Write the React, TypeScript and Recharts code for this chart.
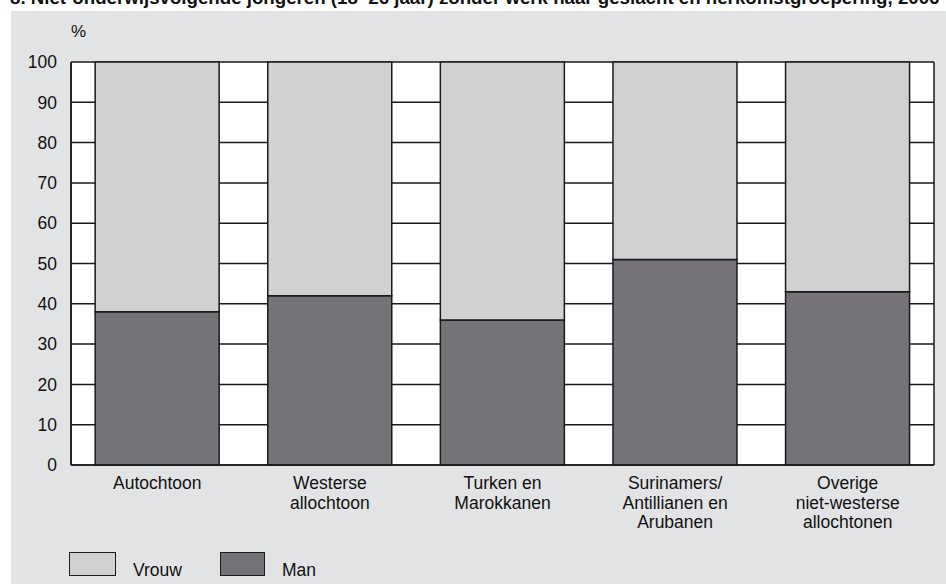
import React from 'react';
import { BarChart, Bar, XAxis, YAxis, CartesianGrid, Legend } from 'recharts';

const TITLE = '8. Niet-onderwijsvolgende jongeren (18–26 jaar) zonder werk naar geslacht en herkomstgroepering, 2006';
const categories = ['Autochtoon', 'Westerse allochtoon', 'Turken en Marokkanen', 'Surinamers/ Antillianen en Arubanen', 'Overige niet-westerse allochtonen'];
const categoryLines: string[][] = [
  ['Autochtoon'],
  ['Westerse', 'allochtoon'],
  ['Turken en', 'Marokkanen'],
  ['Surinamers/', 'Antillianen en', 'Arubanen'],
  ['Overige', 'niet-westerse', 'allochtonen'],
];
const manValues = [38, 42, 36, 51, 43];
const vrouwValues = [62, 58, 64, 49, 57];
const yTicks = [0, 10, 20, 30, 40, 50, 60, 70, 80, 90, 100];
const seriesNames = { vrouw: 'Vrouw', man: 'Man' };

const data = categories.map((c, i) => ({ cat: c, idx: i, man: manValues[i], vrouw: vrouwValues[i] }));

const FONT = 'Liberation Sans, Arial, Helvetica, sans-serif';
const BG = '#e2e3e5';
const VROUW = '#d0d1d3';
const MAN = '#757278';
const LINE = '#1a1a1a';

const XTick = (props: any) => {
  const { x, y, payload } = props;
  const lines = categoryLines[payload.index] || [String(payload.value)];
  return (
    <g>
      {lines.map((l, i) => (
        <text key={i} x={x} y={y + 16 + i * 19.5} textAnchor="middle" fill="#111" fontSize={17.5} fontFamily={FONT}>
          {l}
        </text>
      ))}
    </g>
  );
};

const LegendContent = () => (
  <div style={{ position: 'relative', width: 400, height: 30, fontFamily: FONT, fontSize: 17.5, color: '#111' }}>
    <div style={{ position: 'absolute', left: 0, top: 0, width: 45, height: 22, background: VROUW, border: `1.5px solid ${LINE}` }} />
    <div style={{ position: 'absolute', left: 64, top: 9, lineHeight: '18px' }}>{seriesNames.vrouw}</div>
    <div style={{ position: 'absolute', left: 151, top: 0, width: 43, height: 22, background: MAN, border: `1.5px solid ${LINE}` }} />
    <div style={{ position: 'absolute', left: 213, top: 9, lineHeight: '18px' }}>{seriesNames.man}</div>
  </div>
);

export default function App() {
  return (
    <div style={{ position: 'fixed', left: 0, top: 0, width: 946, height: 584, overflow: 'hidden', background: '#fff' }}>
      <div style={{ position: 'absolute', left: 11, top: 11, width: 935, height: 573, background: BG }} />
      <div
        style={{
          position: 'absolute', left: 10, top: -12, whiteSpace: 'nowrap', fontFamily: FONT, fontWeight: 'bold',
          fontSize: 18.7, color: '#111', lineHeight: '20px',
        }}
      >
        {TITLE}
      </div>
      <div style={{ position: 'absolute', left: 0, top: 0 }}>
        <BarChart
          width={946}
          height={584}
          data={data}
          margin={{ top: 62, right: 12, bottom: 0, left: 0 }}
          barCategoryGap="14%"
        >
          <CartesianGrid
            fill="#ffffff"
            stroke={LINE}
            strokeWidth={1.5}
            horizontalValues={yTicks}
            verticalCoordinatesGenerator={({ offset }: any) => [offset.left, offset.left + offset.width]}
          />
          <XAxis
            dataKey="cat"
            height={119}
            tick={<XTick />}
            tickLine={false}
            axisLine={{ stroke: LINE, strokeWidth: 1.5 }}
            interval={0}
          />
          <YAxis
            width={71}
            domain={[0, 100]}
            ticks={yTicks}
            tickLine={false}
            tickSize={0}
            tickMargin={14}
            axisLine={{ stroke: LINE, strokeWidth: 1.5 }}
            tick={{ fill: '#111', fontSize: 17.5, fontFamily: FONT }}
            label={{
              content: ({ viewBox }: any) => (
                <text x={viewBox.x + viewBox.width} y={viewBox.y - 25} fill="#111" fontSize={17} fontFamily={FONT}>%</text>
              ),
            }}
          />
          <Legend
            layout="horizontal"
            verticalAlign="middle"
            align="center"
            wrapperStyle={{ left: 69, top: 552, width: 400, height: 30 }}
            content={<LegendContent />}
          />
          <Bar dataKey="man" name={seriesNames.man} stackId="a" fill={MAN} stroke={LINE} strokeWidth={1.5} isAnimationActive={false} />
          <Bar dataKey="vrouw" name={seriesNames.vrouw} stackId="a" fill={VROUW} stroke={LINE} strokeWidth={1.5} isAnimationActive={false} />
        </BarChart>
      </div>
    </div>
  );
}
